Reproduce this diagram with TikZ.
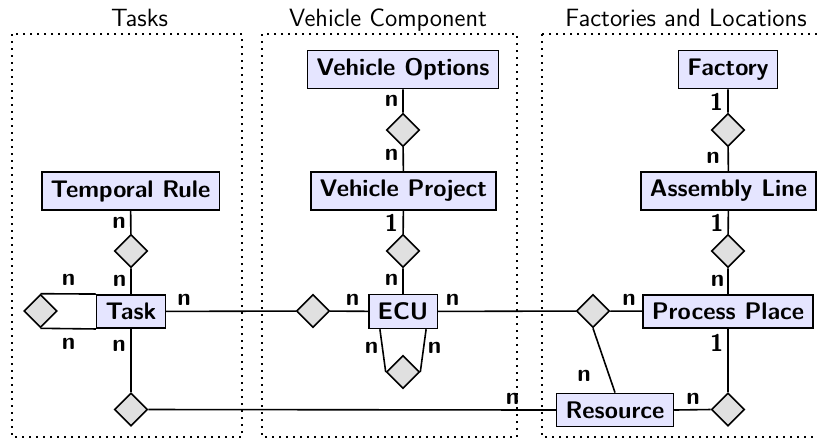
\documentclass[tikz,border=0pt]{standalone}
\usetikzlibrary{shapes.geometric}
\begin{document}
\begin{tikzpicture}[x=0.5pt,y=-0.5pt,
  entity/.style={draw, line width=0.8pt, fill=blue!10, inner xsep=4.5pt, inner ysep=4.1pt,
    font=\fontsize{12}{14}\selectfont\sffamily\bfseries},
  rel/.style={shape=diamond, draw, line width=0.8pt, fill=black!12, inner sep=0pt,
    minimum width=16.5pt, minimum height=16.5pt},
  card/.style={anchor=base, inner sep=0pt, font=\fontsize{12}{14}\selectfont\sffamily\bfseries},
  grouptitle/.style={anchor=base, inner sep=0pt, font=\fontsize{12.5}{15}\selectfont\sffamily},
  groupbox/.style={line width=1pt, dash pattern=on 1pt off 2.5pt},
  conn/.style={line width=0.8pt}]
\useasboundingbox (0,0) rectangle (817,441);
\clip (0,0) rectangle (817,441);

% group frames and their titles
\draw[groupbox] (12,34) rectangle (242,437);
\draw[groupbox] (262,34) rectangle (517,437);
\draw[groupbox] (542,34) rectangle (840,437);
\node[grouptitle] (tTasks) at (139.5,26) {Tasks};
\node[grouptitle] (tVehicle) at (388,26) {Vehicle Component};
\node[grouptitle] (tFactories) at (686,26) {Factories and Locations};

% entities
\node[entity] (vo) at (403,69.5) {Vehicle Options};
\node[entity] (factory) at (728,69.5) {Factory};
\node[entity] (tr) at (130.5,191) {Temporal Rule};
\node[entity] (vp) at (403.5,191) {Vehicle Project};
\node[entity] (al) at (728.5,191) {Assembly Line};
\node[entity] (task) at (131,311.5) {Task};
\node[entity] (ecu) at (403,311.5) {ECU};
\node[entity] (pp) at (728,311.5) {Process Place};
\node[entity] (res) at (615,410) {Resource};

% relationships
\node[rel] (dvo) at (403,130) {};
\node[rel] (df) at (728,130) {};
\node[rel] (dtr) at (131,251) {};
\node[rel] (dvp) at (403,251) {};
\node[rel] (dal) at (728,251) {};
\node[rel] (dloop) at (40.5,311) {};
\node[rel] (dte) at (313,311) {};
\node[rel] (dpr) at (593,311) {};
\node[rel] (decu) at (403,372) {};
\node[rel] (dtres) at (131,409.5) {};
\node[rel] (dres) at (728,409.5) {};

% connectors
\draw[conn] (vo) -- (dvo) -- (vp) -- (dvp) -- (ecu);
\draw[conn] (factory) -- (df) -- (al) -- (dal) -- (pp);
\draw[conn] (tr) -- (dtr) -- (task);
\draw[conn] (task) -- (dte) -- (ecu) -- (dpr) -- (pp);
\draw[conn] (dpr.south) -- (res.north);
\draw[conn] (task) -- (dtres);
\draw[conn] (dtres.east) -- (res.west);
\draw[conn] (pp) -- (dres);
\draw[conn] (dres.west) -- (res.east);
\draw[conn] (dloop.north) -- (task.north west);
\draw[conn] (dloop.south) -- (task.south west);
\draw[conn] ([xshift=6pt]ecu.south west) -- (decu.west);
\draw[conn] ([xshift=-6pt]ecu.south east) -- (decu.east);

% cardinalities
\node[card] (c1) at (391.5,106.5) {n};
\node[card] (c2) at (391.5,160) {n};
\node[card] (c3) at (391.5,231.5) {1};
\node[card] (c4) at (391.5,285) {n};
\node[card] (c5) at (716.5,110) {1};
\node[card] (c6) at (713,163) {n};
\node[card] (c7) at (717,231.7) {1};
\node[card] (c8) at (717.5,286) {n};
\node[card] (c9) at (119,228) {n};
\node[card] (c10) at (119.5,286) {n};
\node[card] (c11) at (119,351) {n};
\node[card] (c12) at (68.5,285) {n};
\node[card] (c13) at (68.5,349) {n};
\node[card] (c14) at (184,305.7) {n};
\node[card] (c15) at (352.5,305.7) {n};
\node[card] (c16) at (452.5,305.7) {n};
\node[card] (c17) at (371.7,353) {n};
\node[card] (c18) at (434.7,353) {n};
\node[card] (c19) at (629,305) {n};
\node[card] (c20) at (584,381.7) {n};
\node[card] (c21) at (512.5,404.3) {n};
\node[card] (c22) at (693,404.3) {n};
\node[card] (c23) at (716.7,351) {1};
\end{tikzpicture}
\end{document}
